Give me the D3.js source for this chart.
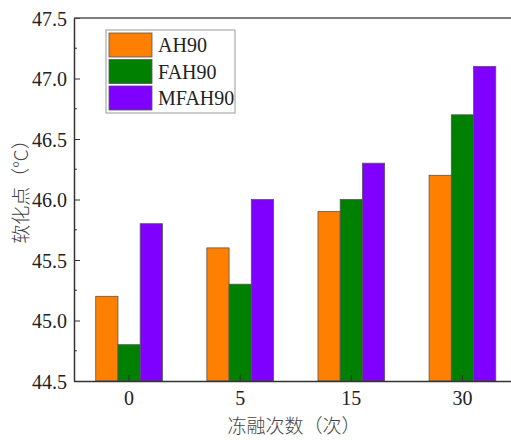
<!DOCTYPE html>
<html>
<head>
<meta charset="utf-8">
<script src="https://cdn.jsdelivr.net/npm/d3@7"></script>
<style>
  body { margin: 0; background: #fff; }
  svg { display: block; }
  text { font-family: "Liberation Serif", "Times New Roman", serif; fill: #222; }
  .cjk { font-family: "Noto Sans CJK SC", sans-serif; fill: #444; font-weight: 300; }
</style>
</head>
<body>
<div id="chart"></div>
<script>
// data
const cycles = ["0", "5", "15", "30"];
const seriesNames = ["AH90", "FAH90", "MFAH90"];
const ah90 = [45.2, 45.6, 45.9, 46.2];
const fah90 = [44.8, 45.3, 46.0, 46.7];
const mfah90 = [45.8, 46.0, 46.3, 47.1];
const yTicks = [44.5, 45.0, 45.5, 46.0, 46.5, 47.0, 47.5];

const colors = ["#ff8000", "#008000", "#8000ff"];
const allSeries = [ah90, fah90, mfah90];
const serif = '"Liberation Serif", "Times New Roman", serif';

const width = 511, height = 440;
const margin = { left: 74, top: 18, right: -7, bottom: 59 };

const svg = d3.select('#chart')
  .append('svg')
  .attr('width', width)
  .attr('height', height);

const x = d3.scaleBand()
  .domain(cycles)
  .range([margin.left - 0.5, width - margin.right])
  .paddingInner(0.4)
  .paddingOuter(0.2);

const xSub = d3.scaleBand()
  .domain(seriesNames)
  .range([0, x.bandwidth()]);

const y = d3.scaleLinear()
  .domain([44.5, 47.5])
  .range([height - margin.bottom, margin.top]);

// bars
const groups = svg.append('g')
  .selectAll('g')
  .data(cycles)
  .join('g')
  .attr('transform', d => `translate(${x(d)},0)`);

groups.selectAll('rect')
  .data((d, i) => seriesNames.map((s, k) => ({ name: s, value: allSeries[k][i], k })))
  .join('rect')
  .attr('x', d => xSub(d.name))
  .attr('y', d => y(d.value))
  .attr('width', xSub.bandwidth())
  .attr('height', d => y(44.5) - y(d.value))
  .attr('fill', d => colors[d.k])
  .attr('stroke', '#555')
  .attr('stroke-width', 0.8);

// left axis with inward ticks
const yAxis = d3.axisLeft(y)
  .tickValues(yTicks)
  .tickFormat(d3.format('.1f'))
  .tickSizeInner(-6)
  .tickSizeOuter(0)
  .tickPadding(7);

const yAxisG = svg.append('g')
  .attr('transform', `translate(${margin.left},0)`)
  .call(yAxis);
yAxisG.attr('font-family', serif);
yAxisG.selectAll('text')
  .style('font-family', serif)
  .style('font-size', '20px')
  .attr('dy', '0.35em');

// minor ticks
svg.append('g')
  .selectAll('line')
  .data(d3.range(44.75, 47.5, 0.5))
  .join('line')
  .attr('x1', margin.left)
  .attr('x2', margin.left + 3)
  .attr('y1', d => y(d))
  .attr('y2', d => y(d))
  .attr('stroke', '#333');

// bottom axis
const xAxis = d3.axisBottom(x)
  .tickSizeInner(-6)
  .tickSizeOuter(0)
  .tickPadding(10);

const xAxisG = svg.append('g')
  .attr('transform', `translate(0,${height - margin.bottom})`)
  .call(xAxis);
xAxisG.attr('font-family', serif);
xAxisG.selectAll('text')
  .style('font-family', serif)
  .style('font-size', '20px');

svg.selectAll('.domain').attr('stroke', '#333').attr('stroke-width', 1.5);
svg.selectAll('.tick line').attr('stroke', '#333');

// top frame line
svg.append('line')
  .attr('x1', margin.left)
  .attr('x2', width)
  .attr('y1', margin.top)
  .attr('y2', margin.top)
  .attr('stroke', '#555')
  .attr('stroke-width', 1.5);

// axis titles
svg.append('text')
  .attr('class', 'cjk')
  .attr('transform', `translate(28,187) rotate(-90)`)
  .attr('text-anchor', 'middle')
  .style('font-size', '19px')
  .text('软化点（°C）');

svg.append('text')
  .attr('class', 'cjk')
  .attr('x', 294)
  .attr('y', 433)
  .attr('text-anchor', 'middle')
  .style('font-size', '19px')
  .text('冻融次数（次）');

// legend
const legend = svg.append('g').attr('transform', 'translate(106,30)');
legend.append('rect')
  .attr('width', 129)
  .attr('height', 83)
  .attr('fill', '#fff')
  .attr('stroke', '#999');

const items = legend.selectAll('g')
  .data(seriesNames)
  .join('g')
  .attr('transform', (d, i) => `translate(3,${3 + i * 26.5})`);

items.append('rect')
  .attr('width', 43)
  .attr('height', 24)
  .attr('fill', (d, i) => colors[i])
  .attr('stroke', '#555')
  .attr('stroke-width', 0.8);

items.append('text')
  .attr('x', 49)
  .attr('y', 12)
  .attr('dy', '0.35em')
  .style('font-size', '20px')
  .text(d => d);
</script>
</body>
</html>
